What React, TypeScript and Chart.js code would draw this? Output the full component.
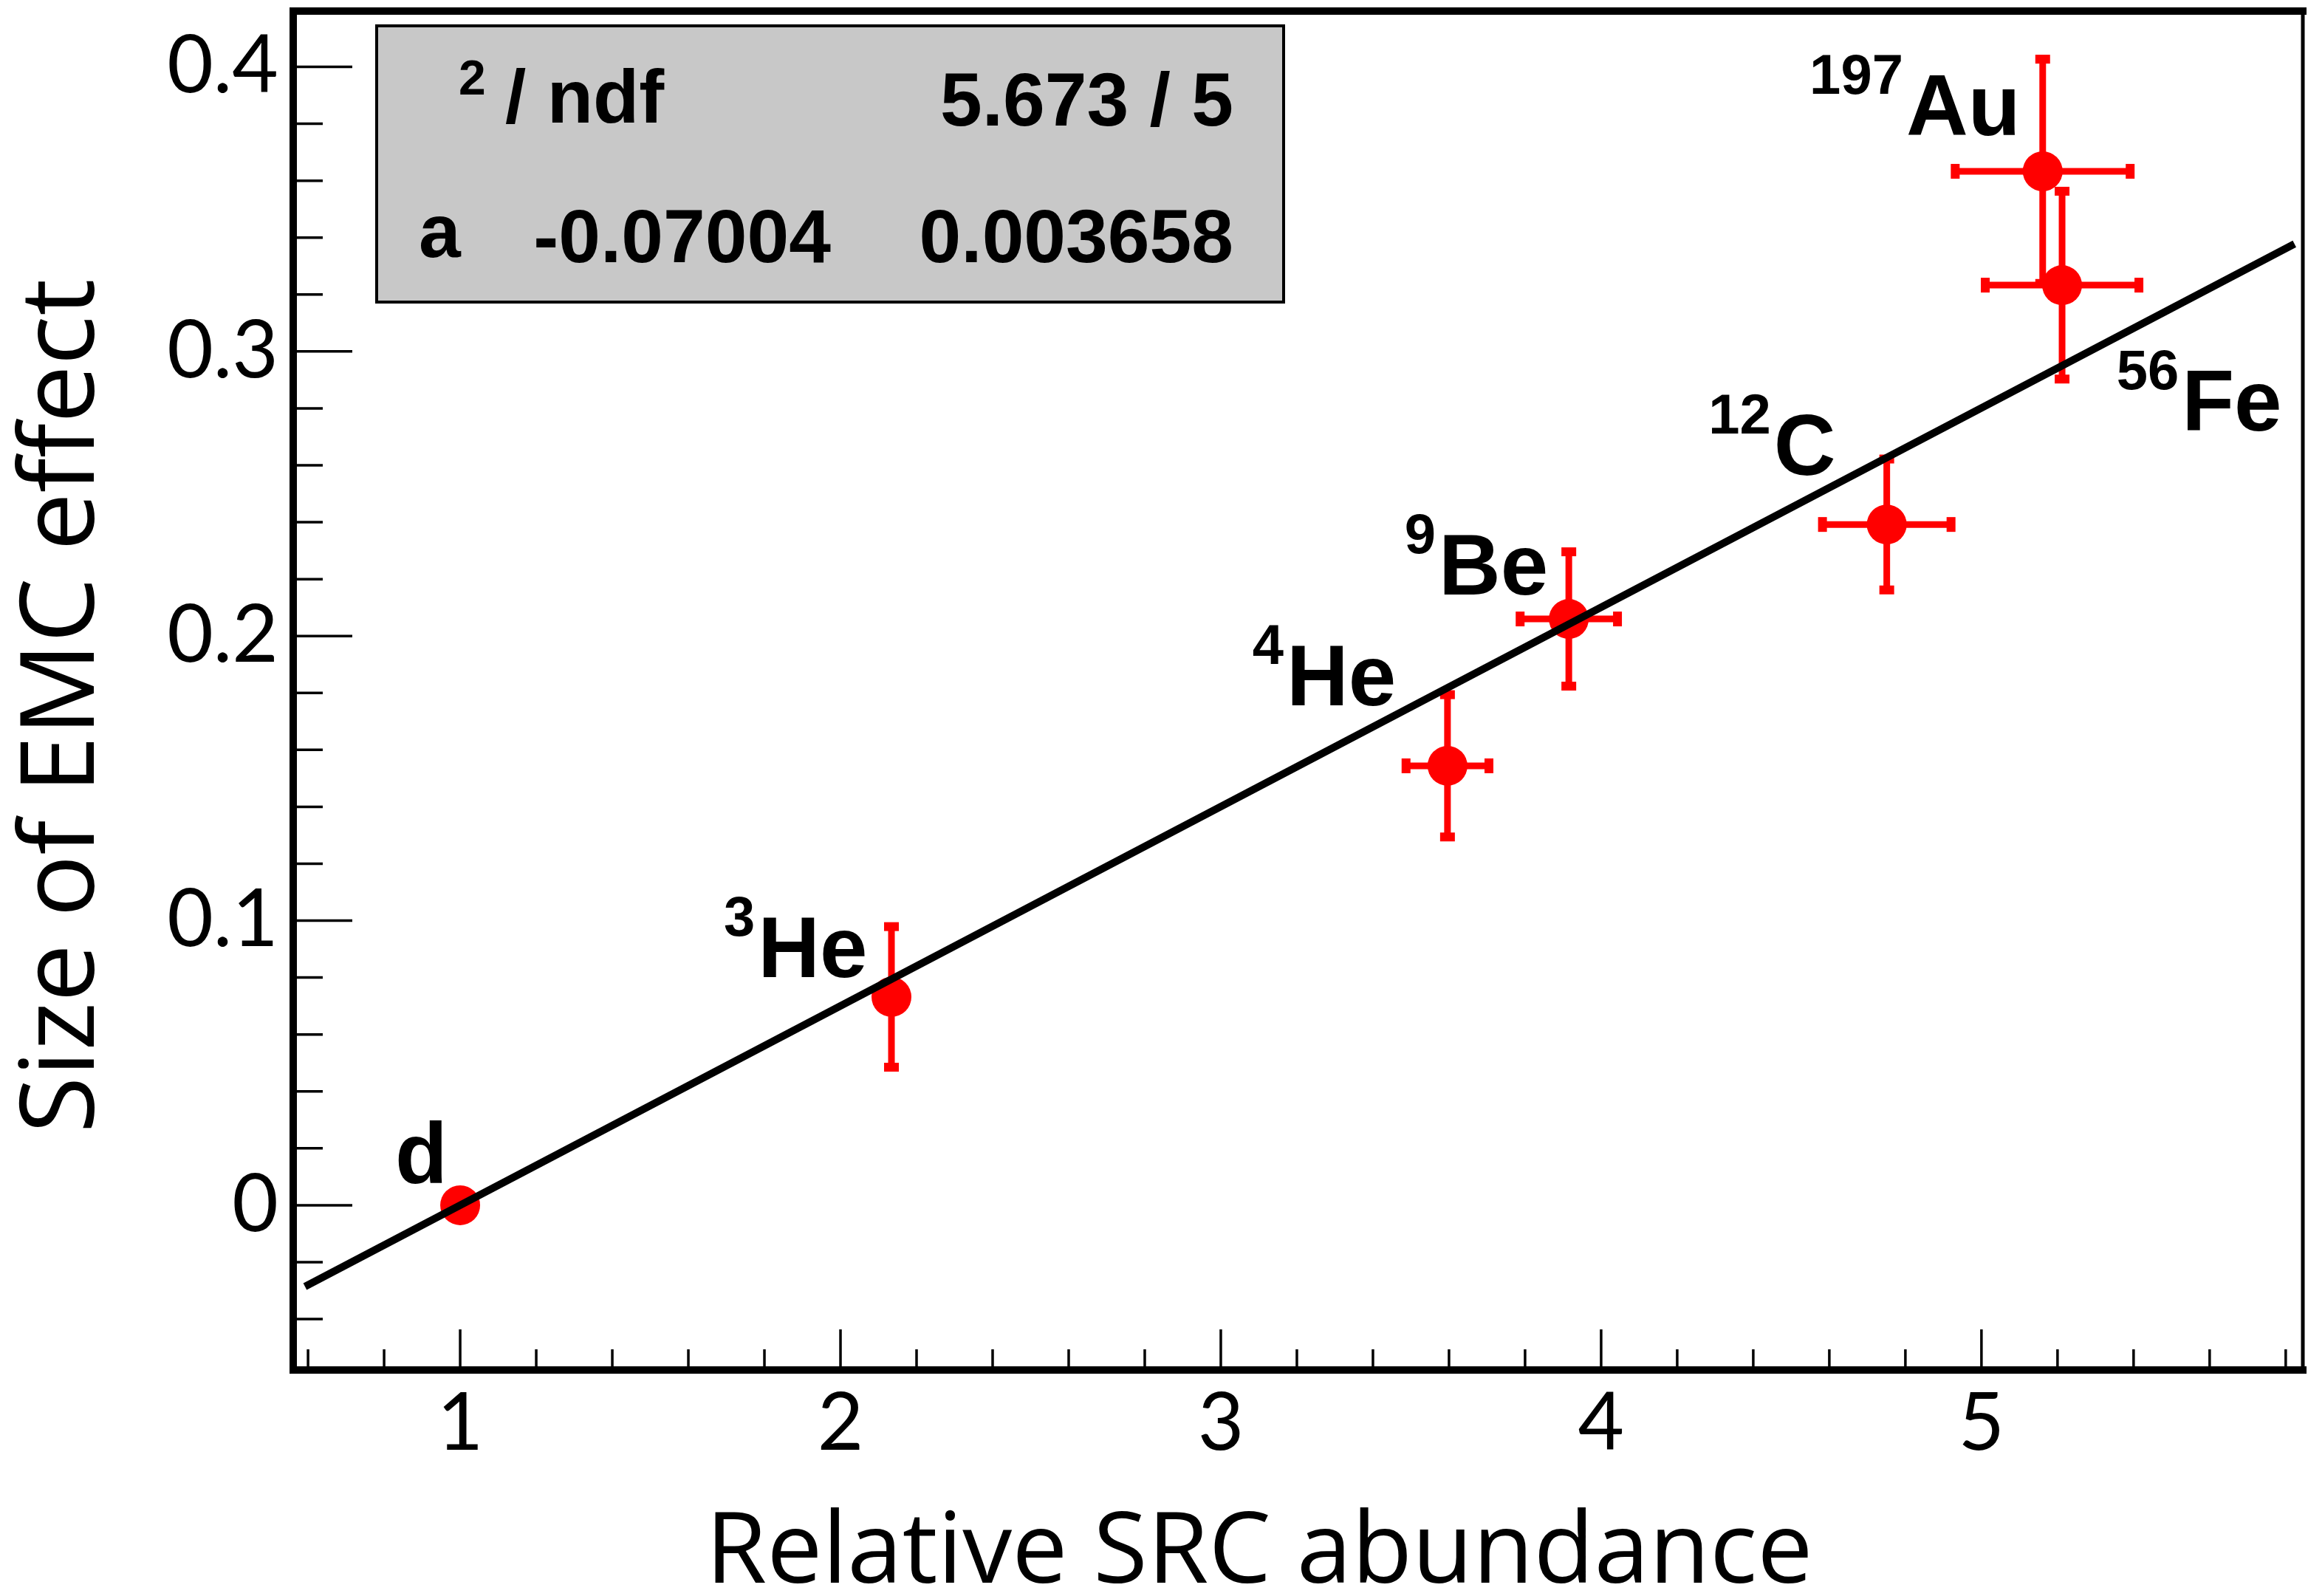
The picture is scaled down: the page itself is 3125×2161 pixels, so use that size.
import React, { useEffect, useRef } from 'react';
import { Chart, registerables } from 'chart.js';
Chart.register(...registerables);

// ---- data ----
const nuclei = ['d', '3He', '4He', '9Be', '12C', '197Au', '56Fe'];
const massNumbers = ['', '3', '4', '9', '12', '197', '56'];
const elementSymbols = ['d', 'He', 'He', 'Be', 'C', 'Au', 'Fe'];
const srcAbundance = [1.0, 2.134, 3.596, 3.915, 4.751, 5.161, 5.212];
const srcError = [0, 0, 0.109, 0.128, 0.169, 0.23, 0.202];
const emcSize = [0.0, 0.0732, 0.1544, 0.206, 0.2392, 0.3633, 0.3233];
const emcError = [0, 0.0247, 0.025, 0.0236, 0.023, 0.0394, 0.033];
// label anchors (data units): left edge / baseline of each nucleus label
const labelX = [0.829, 1.693, 3.083, 3.483, 4.282, 4.548, 5.355];
const labelY = [0.0078, 0.0802, 0.1757, 0.2146, 0.2566, 0.376, 0.2722];

const fitA = -0.07004;
const fitAError = 0.003658;
const chi2 = 5.673;
const ndf = 5;
const fitRange = [0.592, 5.823];

const xRange = [0.561, 5.845];
const yRange = [-0.0579, 0.4196];
const xMajorTicks = [1, 2, 3, 4, 5];
const yMajorTicks = [0, 0.1, 0.2, 0.3, 0.4];
const xMinorStep = 0.2;
const yMinorStep = 0.02;

const xTitle = 'Relative SRC abundance';
const yTitle = 'Size of EMC effect';

const W = 3125;
const H = 2161;
const RED = '#ff0000';
const AXIS_FONT = 'Lato, "Open Sans", sans-serif';
const TITLE_FONT = '"Open Sans", Lato, sans-serif';
const BOLD_FONT = '"Liberation Sans", Arial, Helvetica, sans-serif';

const fitFn = (x: number) => fitA * (1 - x);

const zeroPad = (s: any) => {
  s.paddingTop = 0;
  s.paddingBottom = 0;
  s.paddingLeft = 0;
  s.paddingRight = 0;
};

const rootPlugin = {
  id: 'rootStyle',
  beforeDatasetsDraw(chart: any) {
    const ctx = chart.ctx;
    const xs = chart.scales.x;
    const ys = chart.scales.y;
    ctx.save();
    ctx.strokeStyle = RED;
    ctx.fillStyle = RED;
    ctx.lineWidth = 9;
    const capLong = 20;
    const capShort = 12;
    for (let i = 0; i < srcAbundance.length; i++) {
      const px = xs.getPixelForValue(srcAbundance[i]);
      const py = ys.getPixelForValue(emcSize[i]);
      if (emcError[i] > 0) {
        const y1 = ys.getPixelForValue(emcSize[i] + emcError[i]);
        const y2 = ys.getPixelForValue(emcSize[i] - emcError[i]);
        ctx.beginPath();
        ctx.moveTo(px, y1);
        ctx.lineTo(px, y2);
        ctx.stroke();
        ctx.fillRect(px - capLong / 2, y1 - capShort / 2, capLong, capShort);
        ctx.fillRect(px - capLong / 2, y2 - capShort / 2, capLong, capShort);
      }
      if (srcError[i] > 0) {
        const x1 = xs.getPixelForValue(srcAbundance[i] - srcError[i]);
        const x2 = xs.getPixelForValue(srcAbundance[i] + srcError[i]);
        ctx.beginPath();
        ctx.moveTo(x1, py);
        ctx.lineTo(x2, py);
        ctx.stroke();
        ctx.fillRect(x1 - capShort / 2, py - capLong / 2, capShort, capLong);
        ctx.fillRect(x2 - capShort / 2, py - capLong / 2, capShort, capLong);
      }
    }
    ctx.restore();
  },
  afterDatasetsDraw(chart: any) {
    const ctx = chart.ctx;
    const xs = chart.scales.x;
    const ys = chart.scales.y;
    ctx.save();
    ctx.fillStyle = '#000';
    ctx.textBaseline = 'alphabetic';
    ctx.textAlign = 'left';
    for (let i = 0; i < nuclei.length; i++) {
      let lx = xs.getPixelForValue(labelX[i]);
      const ly = ys.getPixelForValue(labelY[i]);
      if (massNumbers[i]) {
        ctx.font = `bold 76px ${BOLD_FONT}`;
        ctx.fillText(massNumbers[i], lx, ly - 56);
        lx += ctx.measureText(massNumbers[i]).width + 4;
      }
      ctx.font = `bold 116px ${BOLD_FONT}`;
      ctx.fillText(elementSymbols[i], lx, ly);
    }
    ctx.restore();
  },
  afterDraw(chart: any) {
    const ctx = chart.ctx;
    const xs = chart.scales.x;
    const ys = chart.scales.y;
    const ca = chart.chartArea;
    ctx.save();
    // ticks (inside the frame)
    ctx.strokeStyle = '#000';
    ctx.lineWidth = 3.5;
    const eps = 1e-6;
    for (let v = Math.ceil(xRange[0] / xMinorStep) * xMinorStep; v <= xRange[1] + eps; v += xMinorStep) {
      const major = xMajorTicks.some((t) => Math.abs(t - v) < 1e-6);
      const px = xs.getPixelForValue(v);
      ctx.beginPath();
      ctx.moveTo(px, ca.bottom);
      ctx.lineTo(px, ca.bottom - (major ? 55 : 28));
      ctx.stroke();
    }
    for (let v = Math.ceil(yRange[0] / yMinorStep) * yMinorStep; v <= yRange[1] + eps; v += yMinorStep) {
      const major = yMajorTicks.some((t) => Math.abs(t - v) < 1e-6);
      const py = ys.getPixelForValue(v);
      ctx.beginPath();
      ctx.moveTo(ca.left, py);
      ctx.lineTo(ca.left + (major ? 80 : 40), py);
      ctx.stroke();
    }
    // frame
    ctx.lineCap = 'square';
    ctx.lineWidth = 10;
    ctx.beginPath();
    ctx.moveTo(ca.left, ca.bottom);
    ctx.lineTo(ca.left, ca.top);
    ctx.lineTo(ca.right, ca.top);
    ctx.moveTo(ca.left, ca.bottom);
    ctx.lineTo(ca.right, ca.bottom);
    ctx.stroke();
    ctx.lineWidth = 5;
    ctx.beginPath();
    ctx.moveTo(ca.right, ca.top);
    ctx.lineTo(ca.right, ca.bottom);
    ctx.stroke();

    // stat box
    const bx = ca.left + 113;
    const by = ca.top + 20;
    const bw = 1228;
    const bh = 374;
    ctx.fillStyle = '#c8c8c8';
    ctx.fillRect(bx, by, bw, bh);
    ctx.lineWidth = 4;
    ctx.lineCap = 'butt';
    ctx.strokeRect(bx, by, bw, bh);
    ctx.fillStyle = '#000';
    ctx.textBaseline = 'alphabetic';
    ctx.font = `bold 66px ${BOLD_FONT}`;
    ctx.textAlign = 'left';
    ctx.fillText('2', bx + 111, by + 93);
    ctx.font = `bold 102px ${BOLD_FONT}`;
    ctx.fillText('/ ndf', bx + 174, by + 131);
    ctx.fillText('a', bx + 57, by + 313);
    ctx.textAlign = 'right';
    ctx.fillText(`${chi2.toFixed(3)} / ${ndf}`, bx + 1160, by + 135);
    ctx.fillText(fitA.toFixed(5), bx + 615, by + 320);
    ctx.fillText(fitAError.toFixed(6), bx + 1160, by + 320);

    // axis titles
    ctx.textAlign = 'center';
    ctx.font = `134px ${TITLE_FONT}`;
    ctx.fillText(xTitle, 1705, 2143);
    ctx.save();
    ctx.font = `140px ${TITLE_FONT}`;
    ctx.translate(127, 956);
    ctx.rotate(-Math.PI / 2);
    ctx.fillText(yTitle, 0, 0);
    ctx.restore();
    ctx.restore();
  },
};

export default function App() {
  const ref = useRef<HTMLCanvasElement>(null);
  useEffect(() => {
    if (!ref.current) return;
    const chart = new Chart(ref.current, {
      type: 'scatter',
      data: {
        datasets: [
          {
            type: 'line',
            label: 'fit',
            data: fitRange.map((x) => ({ x, y: fitFn(x) })),
            borderColor: '#000',
            borderWidth: 10,
            pointRadius: 0,
            fill: false,
            order: 0,
          } as any,
          {
            type: 'scatter',
            label: 'EMC vs SRC',
            data: srcAbundance.map((x, i) => ({ x, y: emcSize[i] })),
            backgroundColor: RED,
            borderWidth: 0,
            pointRadius: 27,
            pointStyle: 'circle',
            order: 1,
          },
        ],
      },
      options: {
        responsive: false,
        animation: false,
        devicePixelRatio: 1,
        layout: { autoPadding: false, padding: { top: 15, right: 7, left: 0, bottom: 0 } },
        plugins: { legend: { display: false }, tooltip: { enabled: false }, title: { display: false } },
        scales: {
          x: {
            type: 'linear',
            min: xRange[0],
            max: xRange[1],
            grid: { display: false, drawTicks: false, tickLength: 0 },
            border: { display: false },
            afterBuildTicks: (s: any) => {
              s.ticks = xMajorTicks.map((v) => ({ value: v }));
            },
            afterFit: (s: any) => {
              s.height = H - 1855;
              zeroPad(s);
            },
            ticks: {
              autoSkip: false,
              maxRotation: 0,
              padding: 8,
              color: '#000',
              font: { family: AXIS_FONT, size: 108 },
              callback: (v: any) => String(v),
            },
          },
          y: {
            type: 'linear',
            min: yRange[0],
            max: yRange[1],
            grid: { display: false, drawTicks: false, tickLength: 0 },
            border: { display: false },
            afterBuildTicks: (s: any) => {
              s.ticks = yMajorTicks.map((v) => ({ value: v }));
            },
            afterFit: (s: any) => {
              s.width = 397;
              zeroPad(s);
            },
            ticks: {
              autoSkip: false,
              padding: 20,
              color: '#000',
              font: { family: AXIS_FONT, size: 108 },
              callback: (v: any) => String(v),
            },
          },
        },
      },
      plugins: [rootPlugin],
    });
    return () => chart.destroy();
  }, []);
  return (
    <div style={{ position: 'absolute', left: 0, top: 0, width: W, height: H, background: '#fff' }}>
      <canvas ref={ref} width={W} height={H} style={{ width: W, height: H, display: 'block' }} />
    </div>
  );
}
